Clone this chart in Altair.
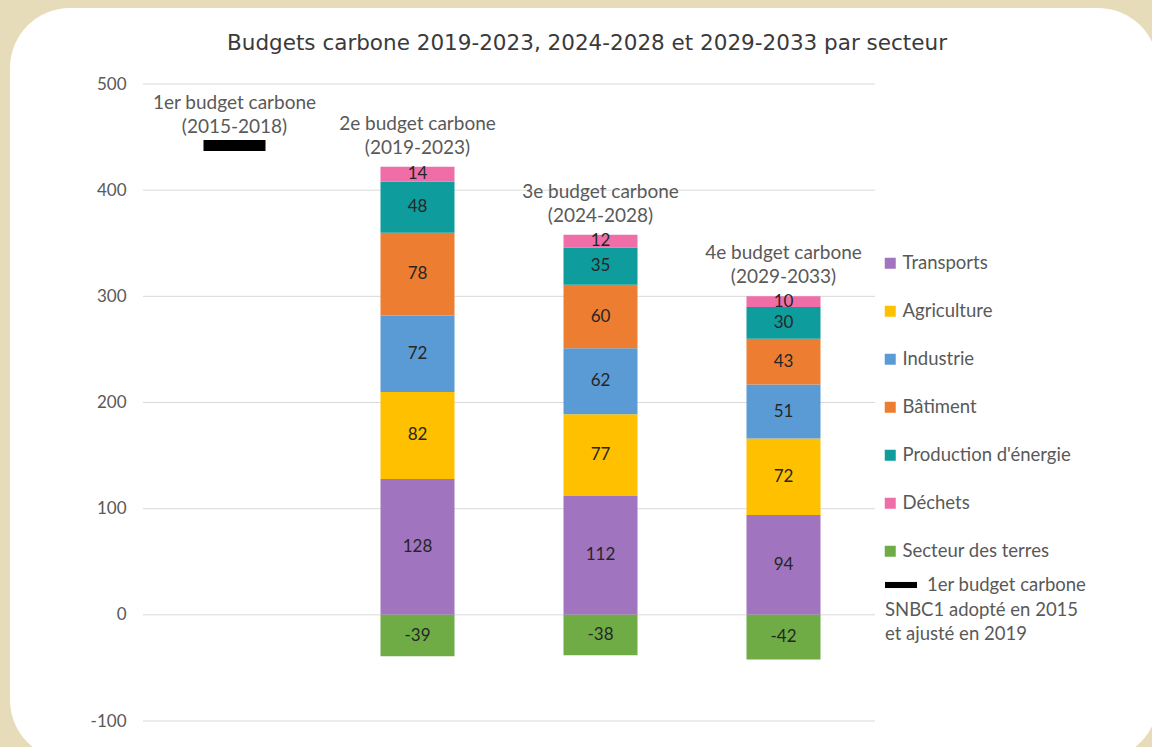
import altair as alt
import pandas as pd

# ---------------- data ----------------
budget_keys = ["B1", "B2", "B3", "B4"]
budget_labels = [
    "1er budget carbone\n(2015-2018)",
    "2e budget carbone\n(2019-2023)",
    "3e budget carbone\n(2024-2028)",
    "4e budget carbone\n(2029-2033)",
]
sectors = ["Transports", "Agriculture", "Industrie", "Bâtiment",
           "Production d'énergie", "Déchets", "Secteur des terres"]
sector_colors = ["#A074BE", "#FFC000", "#5B9BD5", "#ED7D31",
                 "#0E9C9C", "#EF6EA7", "#6FAC46"]
values_b2 = [128, 82, 72, 78, 48, 14, -39]
values_b3 = [112, 77, 62, 60, 35, 12, -38]
values_b4 = [94, 72, 51, 43, 30, 10, -42]
first_budget = [442]
y_ticks = [-100, 0, 100, 200, 300, 400, 500]

TITLE = "Budgets carbone 2019-2023, 2024-2028 et 2029-2033 par secteur"
LEGEND2_LABEL = "1er budget carbone"
LEGEND2_NOTE = ["SNBC1 adopté en 2015", "et ajusté en 2019"]

# ---------------- tables ----------------
rows = []
for key, vals in zip(["B2", "B3", "B4"], [values_b2, values_b3, values_b4]):
    pos = 0
    neg = 0
    for i, (s, v) in enumerate(zip(sectors, vals)):
        if v >= 0:
            lo, hi = pos, pos + v
            pos = hi
        else:
            lo, hi = neg + v, neg
            neg = lo
        rows.append({"budget": key, "sector": s, "value": v, "txt": str(v),
                     "lo": lo, "hi": hi, "mid": (lo + hi) / 2, "order": i})
bars_df = pd.DataFrame(rows)

tops = [first_budget[0]] + [sum(v for v in vals if v > 0) for vals in (values_b2, values_b3, values_b4)]
labels_df = pd.DataFrame({"budget": budget_keys, "top": tops, "label": budget_labels})
first_df = pd.DataFrame({"budget": ["B1"], "value": first_budget, "lab": [LEGEND2_LABEL]})
ticks_df = pd.DataFrame({"v": y_ticks})
title_df = pd.DataFrame({"t": [TITLE]})

# ---------------- layout ----------------
W, H = 732, 637
LEFT, TOP = 143, 84
FONT = "Lato"
GRAY = "#595959"

xscale = alt.Scale(domain=budget_keys, paddingInner=0, paddingOuter=0)
yscale = alt.Scale(domain=[-100, 500], nice=False, zero=False)
X = alt.X("budget:N", scale=xscale, axis=None)
YAXIS = alt.Axis(values=y_ticks, grid=False, domain=False, ticks=False,
                 labelPadding=17, labelFont=FONT, labelFontSize=17,
                 labelColor=GRAY, title=None, zindex=1,
                 labelExpr="'' + datum.value")


def Y(field):
    return alt.Y(field, scale=yscale, axis=YAXIS)


card = alt.Chart(pd.DataFrame({"k": [0]})).mark_rect(color="white", cornerRadius=60).encode(
    x=alt.value(10 - LEFT), x2=alt.value(1158 - LEFT),
    y=alt.value(8 - TOP), y2=alt.value(760 - TOP),
)

title = alt.Chart(title_df).mark_text(
    font="DejaVu Sans", fontSize=21.5, color="#3A3A3A", align="center", baseline="middle",
).encode(
    x=alt.value(587 - LEFT), y=alt.value(44 - TOP), text="t:N",
)

grid = alt.Chart(ticks_df).mark_rule(color="#D9D9D9", strokeWidth=1).encode(
    y=Y("v:Q"),
    x=alt.value(0), x2=alt.value(W),
)

bars = alt.Chart(bars_df).mark_bar(size=74).encode(
    x=X,
    y=Y("lo:Q"),
    y2="hi:Q",
    color=alt.Color("sector:N",
                    scale=alt.Scale(domain=sectors, range=sector_colors),
                    legend=alt.Legend(title=None, orient="none", legendX=738, legendY=170,
                                      symbolType="square", symbolSize=121,
                                      symbolStrokeWidth=0, labelLimit=300,
                                      labelFont=FONT, labelFontSize=18.5, labelColor=GRAY,
                                      rowPadding=29, labelOffset=3)),
    order="order:Q",
)

bar_text = alt.Chart(bars_df).mark_text(font=FONT, fontSize=17, color="#262626").encode(
    x=X,
    y=Y("mid:Q"),
    text="txt:N",
)

first_tick = alt.Chart(first_df).mark_tick(thickness=11, size=62, opacity=1).encode(
    x=X,
    y=Y("value:Q"),
    fill=alt.Fill("lab:N",
                  scale=alt.Scale(domain=[LEGEND2_LABEL], range=["black"]),
                  legend=alt.Legend(title=LEGEND2_NOTE, orient="none",
                                    legendX=742, legendY=485,
                                    titleOrient="bottom", titleAnchor="start",
                                    titleFont=FONT, titleFontSize=18.5,
                                    titleFontWeight="normal", titleColor=GRAY,
                                    titleLineHeight=24, titlePadding=6, titleLimit=300,
                                    symbolType="M-1,-0.19H1V0.19H-1Z", symbolSize=1024,
                                    symbolStrokeWidth=0, symbolFillColor="black",
                                    symbolOpacity=1, labelLimit=300,
                                    labelFont=FONT, labelFontSize=18.5,
                                    labelColor=GRAY, labelOffset=10)),
)

cat_labels = alt.Chart(labels_df).mark_text(
    font=FONT, fontSize=19, color=GRAY, baseline="bottom", dy=-33,
    lineBreak="\n", lineHeight=24,
).encode(
    x=X,
    y=Y("top:Q"),
    text="label:N",
)

chart = alt.layer(card, title, grid, bars, bar_text, first_tick, cat_labels).properties(
    width=W, height=H,
    autosize=alt.AutoSizeParams(type="none"),
    padding={"left": LEFT, "top": TOP, "right": 1152 - LEFT - W, "bottom": 747 - TOP - H},
).configure(
    background="#E6DCB9",
).configure_view(stroke=None)

chart.save("out.html", embed_options={"renderer": "svg", "actions": False})
